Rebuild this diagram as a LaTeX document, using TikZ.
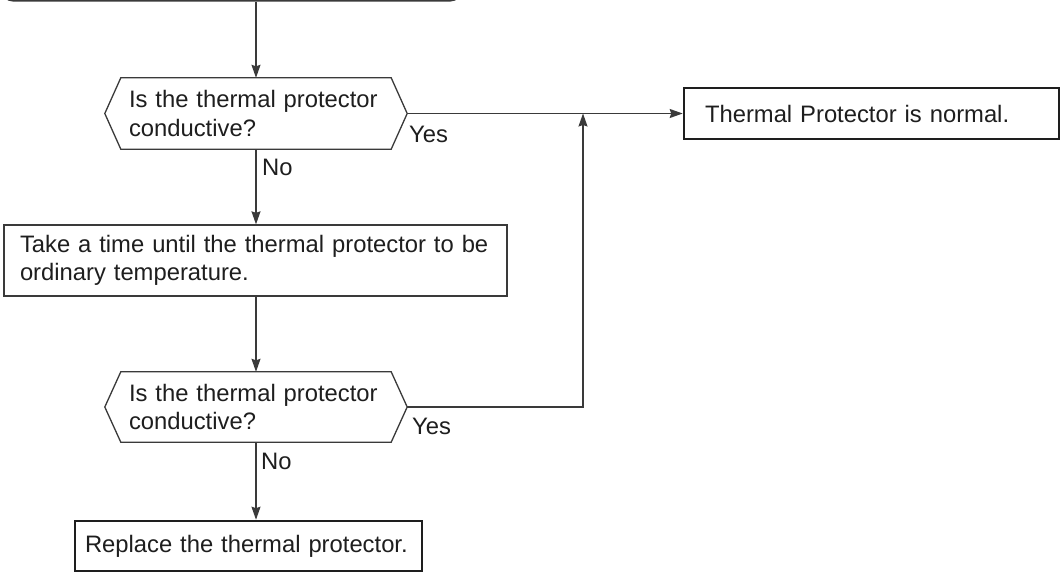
\documentclass[tikz,border=0pt]{standalone}
\usepackage{fontspec}
\setmainfont{Liberation Sans}
\usetikzlibrary{arrows.meta,calc}
\definecolor{ln}{HTML}{3A3A3A}
\definecolor{tx}{HTML}{1E1E1E}
\tikzset{
  every node/.style={font=\fontsize{23.8}{28.4}\selectfont, text=tx},
  thinbox/.style={draw=ln, line width=1.3pt, rectangle, inner ysep=0pt, align=left},
  thickbox/.style={draw=tx, line width=2.6pt, rectangle, inner ysep=0pt, align=left},
  decision/.style={rectangle, inner ysep=0pt, inner xsep=8pt, text width=254pt, minimum width=270pt, minimum height=71pt, align=left},
  hexline/.style={draw=ln, line width=1.3pt},
  conn/.style={draw=ln, line width=1.3pt},
  arr/.style={conn, -{Stealth[length=13pt,width=9pt,inset=1.5pt]}},
  lbl/.style={inner sep=0pt, anchor=base west}
}
\begin{document}
\begin{tikzpicture}[x=1pt,y=-1pt]
\useasboundingbox (0,0) rectangle (1061,573);
\clip (0,0) rectangle (1061,573);
\fill[white] (0,0) rectangle (1061,573);

% top (cut off) start box
\node[draw=ln, line width=1.3pt, rounded corners=10pt, minimum width=458pt, minimum height=60pt, anchor=south west] (start) at (2,1.5) {};

% decisions
\node[decision] (d1) at (256,113.5) {Is the thermal protector\\conductive?};
\draw[hexline] (d1.north west) -- (d1.north east) -- ([xshift=16pt]d1.east) coordinate (d1e) -- (d1.south east) -- (d1.south west) -- ([xshift=-16pt]d1.west) -- cycle;

\node[decision, minimum height=70pt] (d2) at (256,407) {Is the thermal protector\\conductive?};
\draw[hexline] (d2.north west) -- (d2.north east) -- ([xshift=16pt]d2.east) coordinate (d2e) -- (d2.south east) -- (d2.south west) -- ([xshift=-16pt]d2.west) -- cycle;

% boxes
\node[thickbox, inner xsep=21pt, text width=333pt, minimum height=51pt] (ok) at (871.5,113.5) {Thermal Protector is normal.};
\node[thinbox, inner xsep=16pt, text width=471pt, minimum height=71pt] (wait) at (255.5,260.5) {Take a time until the thermal protector to be\\ordinary temperature.};
\node[thickbox, inner xsep=10pt, text width=327pt, minimum height=50pt] (repl) at (248.5,546) {Replace the thermal protector.};

% labels
\node[lbl] (y1) at (409,142) {Yes};
\node[lbl] (n1) at (262,175) {No};
\node[lbl] (y2) at (412,434) {Yes};
\node[lbl] (n2) at (261,469) {No};

% connectors
\coordinate (jn) at (583,113.5);
\draw[arr] (start.south -| d1.north) -- (d1.north);
\draw[arr] (d1e) -- (ok.west);
\draw[arr] (d1.south) -- (d1.south |- wait.north);
\draw[arr] (wait.south -| d2.north) -- (d2.north);
\draw[arr] (d2.south) -- (d2.south |- repl.north);
\draw[arr] (d2e) -| (jn);
\end{tikzpicture}
\end{document}
